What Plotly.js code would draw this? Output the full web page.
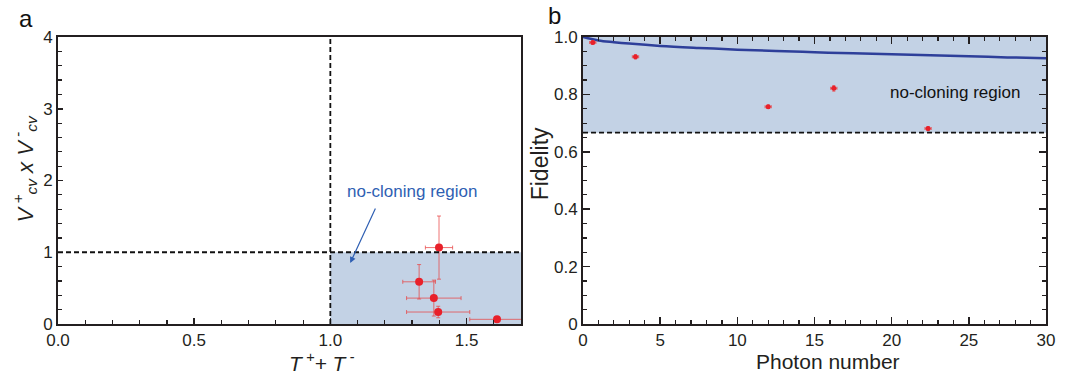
<!DOCTYPE html>
<html>
<head>
<meta charset="utf-8">
<script src="https://cdn.plot.ly/plotly-3.0.1.min.js"></script>
<style>html,body{margin:0;padding:0;background:#fff;}#chart{width:1072px;height:374px;}</style>
</head>
<body>
<div id="chart"></div>
<script>
// Panel a data: T+ + T-  vs  V+cv x V-cv
const aT = [1.399, 1.326, 1.380, 1.396, 1.612];
const aV = [1.065, 0.588, 0.361, 0.167, 0.065];
const aTerr = [0.05, 0.06, 0.10, 0.116, 0.10];
const aVerr = [0.44, 0.24, 0.25, 0.08, 0.03];

// Panel b data: fidelity vs photon number
const bN = [0.63, 3.4, 12.0, 16.25, 22.36];
const bF = [0.981, 0.931, 0.757, 0.821, 0.681];
const bNerr = [0.2, 0.2, 0.2, 0.2, 0.2];
const bFerr = [0.006, 0.007, 0.006, 0.01, 0.007];

// Theoretical fidelity curve
const curveN = [0, 1, 2, 3, 5, 7.5, 10, 12.5, 15, 17.5, 20, 22.5, 25, 27.5, 30];
const curveF = [1.0, 0.988, 0.982, 0.977, 0.969, 0.962, 0.956, 0.951, 0.947, 0.943, 0.940, 0.936, 0.933, 0.929, 0.926];

// Thresholds
const aThreshT = 1.0, aThreshV = 1.0, bThreshF = 2/3;

// Tick labels
const aXticks = [0, 0.5, 1.0, 1.5], aXtext = ['0.0', '0.5', '1.0', '1.5'];
const aYticks = [0, 1, 2, 3, 4], aYtext = ['0', '1', '2', '3', '4'];
const bXticks = [0, 5, 10, 15, 20, 25, 30], bXtext = ['0', '5', '10', '15', '20', '25', '30'];
const bYticks = [0, 0.2, 0.4, 0.6, 0.8, 1.0], bYtext = ['0', '0.2', '0.4', '0.6', '0.8', '1.0'];

const FONT = 'Liberation Sans, Arial, Helvetica, sans-serif';
const FRAME = '#231f20';
const FILL = '#c3d2e5';
const RED = '#e8202a';
const ERRC = 'rgba(232,70,70,0.75)';
const DASH = '5px,3px';

const traces = [
  {
    x: aT, y: aV, xaxis: 'x', yaxis: 'y', type: 'scatter', mode: 'markers',
    marker: {color: RED, size: 8},
    error_x: {type: 'data', array: aTerr, color: ERRC, thickness: 1, width: 2},
    error_y: {type: 'data', array: aVerr, color: ERRC, thickness: 1, width: 2},
    showlegend: false, cliponaxis: false
  },
  {
    x: curveN, y: curveF, xaxis: 'x2', yaxis: 'y2', type: 'scatter', mode: 'lines',
    line: {color: '#2e3f9a', width: 2.5, shape: 'spline'}, showlegend: false
  },
  {
    x: bN, y: bF, xaxis: 'x2', yaxis: 'y2', type: 'scatter', mode: 'markers',
    marker: {color: RED, size: 5},
    error_x: {type: 'data', array: bNerr, color: ERRC, thickness: 1.2, width: 1.5},
    error_y: {type: 'data', array: bFerr, color: ERRC, thickness: 1.2, width: 1.5},
    showlegend: false
  }
];

const axBase = {
  showline: true, linewidth: 2, linecolor: FRAME, mirror: true,
  showgrid: false, zeroline: false, ticks: 'inside', tickcolor: FRAME, tickwidth: 1.5,
  tickfont: {family: FONT, size: 17, color: '#231f20'}, fixedrange: true
};

const layout = {
  width: 1072, height: 374,
  margin: {l: 58, r: 26, t: 37, b: 50},
  paper_bgcolor: '#fff', plot_bgcolor: '#fff',
  font: {family: FONT, color: '#231f20'},
  xaxis: Object.assign({}, axBase, {
    domain: [0, 0.4686], range: [0, 1.7], tickmode: 'array', tickvals: aXticks, ticktext: aXtext,
    ticklen: 6, minor: {dtick: 0.1, ticks: 'inside', ticklen: 4, tickcolor: FRAME, tickwidth: 1.2},
    anchor: 'y'
  }),
  yaxis: Object.assign({}, axBase, {
    domain: [0, 1], range: [0, 4], tickmode: 'array', tickvals: aYticks, ticktext: aYtext,
    ticklen: 5, minor: {dtick: 0.2, ticks: 'inside', ticklen: 4, tickcolor: FRAME, tickwidth: 1.2},
    anchor: 'x'
  }),
  xaxis2: Object.assign({}, axBase, {
    domain: [0.5314, 1], range: [0, 30], tickmode: 'array', tickvals: bXticks, ticktext: bXtext,
    ticklen: 7, mirror: 'allticks', minor: {dtick: 1, ticks: 'inside', ticklen: 4, tickcolor: FRAME, tickwidth: 1.2},
    anchor: 'y2'
  }),
  yaxis2: Object.assign({}, axBase, {
    domain: [0, 1], range: [0, 1], tickmode: 'array', tickvals: bYticks, ticktext: bYtext,
    ticklen: 7, mirror: 'allticks', minor: {dtick: 0.05, ticks: 'inside', ticklen: 4, tickcolor: FRAME, tickwidth: 1.2},
    anchor: 'x2'
  }),
  shapes: [
    {type: 'rect', xref: 'x', yref: 'y', x0: aThreshT, x1: 1.7, y0: 0, y1: aThreshV, fillcolor: FILL, line: {width: 0}, layer: 'below'},
    {type: 'line', xref: 'x', yref: 'y', x0: 0, x1: 1.7, y0: aThreshV, y1: aThreshV, line: {color: '#111', width: 1.8, dash: DASH}},
    {type: 'line', xref: 'x', yref: 'y', x0: aThreshT, x1: aThreshT, y0: 0, y1: 4, line: {color: '#111', width: 1.8, dash: DASH}},
    {type: 'rect', xref: 'x2', yref: 'y2', x0: 0, x1: 30, y0: bThreshF, y1: 1, fillcolor: FILL, line: {width: 0}, layer: 'below'},
    {type: 'line', xref: 'x2', yref: 'y2', x0: 0, x1: 30, y0: bThreshF, y1: bThreshF, line: {color: '#111', width: 1.8, dash: DASH}}
  ],
  annotations: [
    {xref: 'paper', yref: 'paper', x: -0.041, y: 1.118, xanchor: 'left', yanchor: 'top', text: 'a', showarrow: false, font: {family: FONT, size: 24, color: '#111'}},
    {xref: 'paper', yref: 'paper', x: 0.4935, y: 1.128, xanchor: 'left', yanchor: 'top', text: 'b', showarrow: false, font: {family: FONT, size: 24, color: '#111'}},
    {xref: 'x', yref: 'y', x: 1.30, y: 1.85, text: 'no-cloning region', showarrow: false,
     font: {family: FONT, size: 17, color: '#2f5fb3'}},
    {xref: 'x', yref: 'y', x: 1.073, y: 0.85, ax: 1.168, ay: 1.63, axref: 'x', ayref: 'y', text: '', showarrow: true,
     arrowhead: 2, arrowsize: 1, arrowwidth: 1.2, arrowcolor: '#2f5fb3', standoff: 0, startstandoff: 0},
    {xref: 'x2', yref: 'y2', x: 24.1, y: 0.805, text: 'no-cloning region', showarrow: false,
     font: {family: FONT, size: 17, color: '#111'}},
    // axis titles
    {xref: 'x', yref: 'paper', x: 0.97, y: -0.133, yanchor: 'middle', text: '<i>T<sup> +</sup>+ T<sup> -</sup></i>', showarrow: false,
     font: {family: FONT, size: 21, color: '#231f20'}},
    {xref: 'paper', yref: 'paper', x: -0.034, y: 0.54, xanchor: 'center', yanchor: 'middle', textangle: -90,
     text: '<i>V<sup> +</sup><sub>cv</sub> x V<sup> -</sup><sub>cv</sub></i>', showarrow: false,
     font: {family: FONT, size: 22, color: '#231f20'}},
    {xref: 'x2', yref: 'paper', x: 15.9, y: -0.131, yanchor: 'middle', text: 'Photon number', showarrow: false,
     font: {family: FONT, size: 21, color: '#231f20'}},
    {xref: 'paper', yref: 'paper', x: 0.488, y: 0.557, xanchor: 'center', yanchor: 'middle', textangle: -90,
     text: 'Fidelity', showarrow: false, font: {family: FONT, size: 23, color: '#231f20'}}
  ]
};

Plotly.newPlot('chart', traces, layout, {staticPlot: true, displayModeBar: false});
</script>
</body>
</html>
